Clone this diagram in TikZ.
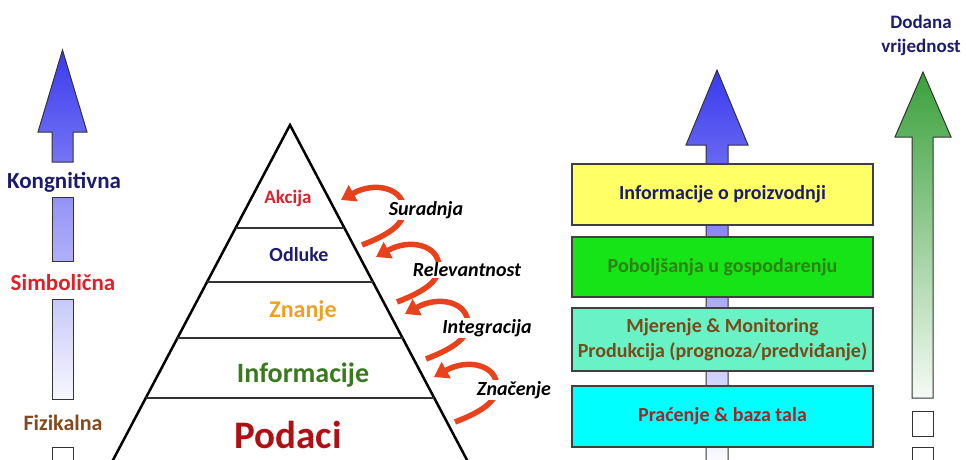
\documentclass[tikz,border=0pt]{standalone}
\usepackage{fontspec}
\setmainfont{Carlito}
\usetikzlibrary{arrows.meta,calc}
\definecolor{lblue}{RGB}{58,58,238}
\definecolor{ggreen}{RGB}{58,160,58}
\definecolor{rarr}{RGB}{232,66,28}
\definecolor{navy}{RGB}{28,28,110}
\definecolor{redlbl}{RGB}{226,30,40}
\definecolor{brownlbl}{RGB}{130,74,30}
\definecolor{orangelbl}{RGB}{240,160,32}
\definecolor{greenlbl}{RGB}{58,122,30}
\definecolor{darkred}{RGB}{176,16,20}
\definecolor{byellow}{RGB}{255,255,102}
\definecolor{bgreen}{RGB}{22,228,22}
\definecolor{bteal}{RGB}{104,242,198}
\definecolor{bcyan}{RGB}{0,255,255}
\definecolor{tgreen}{RGB}{46,130,20}
\definecolor{tbrown}{RGB}{122,74,24}
\definecolor{tred}{RGB}{160,40,40}
\begin{document}
\begin{tikzpicture}[x=1pt,y=-1pt,
  outl/.style={draw=black!80,line width=1pt},
  lbl/.style={font=\fontsize{#1}{#1}\selectfont\bfseries,inner sep=1pt},
  plbl/.style={font=\fontsize{#1}{#1}\selectfont\bfseries,inner sep=0pt},
  ilbl/.style={font=\fontsize{20}{20}\selectfont\bfseries\itshape,fill=white,inner sep=1pt},
  redarr/.style={draw=rarr,line width=5.5pt,-{Triangle[width=18pt,length=14pt]}},
  tier/.style={draw=black!75,line width=1.2pt,minimum width=301pt,inner sep=0pt,align=center,font=\fontsize{20}{25}\selectfont\bfseries},
  hline/.style={draw=black!80,line width=1.5pt}]
\useasboundingbox (0,0) rectangle (966,460);
\clip (0,0) rectangle (966,460);

% ---- left arrow ----
\path[outl,top color=lblue,bottom color=lblue!70!white]
  (62.5,50) -- (87,132) -- (73,132) -- (73,162) -- (52,162) -- (52,132) -- (38,132) -- cycle;
\path[outl,top color=lblue!55!white,bottom color=lblue!40!white] (52,197) rectangle (73,261);
\path[outl,top color=lblue!28!white,bottom color=lblue!4!white] (52,299) rectangle (73,399);
\path[outl,fill=white] (52,447) rectangle (73,470);
\node[lbl=23,text=navy] (kog) at (64,182) {Kongnitivna};
\node[lbl=23,text=redlbl] (sim) at (63,283) {Simbolična};
\node[lbl=22,text=brownlbl] (fiz) at (63,423) {Fizikalna};

% ---- pyramid ----
\coordinate (apex) at (290,125);
\coordinate (bl) at (113,460);
\coordinate (br) at (467,460);
\draw[line width=2.5pt,line join=miter] ($(apex)!1.1!(bl)$) -- (apex) -- ($(apex)!1.1!(br)$);
\foreach \t in {0.3075,0.4687,0.6358,0.8149}
  \draw[hline] ($(apex)!\t!(bl)$) -- ($(apex)!\t!(br)$);
\node[plbl=19,text=redlbl] (akc) at (288,198) {Akcija};
\node[plbl=20,text=navy] (odl) at (299,255) {Odluke};
\node[plbl=24,text=orangelbl] (zna) at (303,311) {Znanje};
\node[plbl=28,text=greenlbl] (inf) at (303,375) {Informacije};
\node[plbl=39,text=darkred] (pod) at (288,435) {Podaci};

% ---- red curved arrows ----
\foreach \i/\dx/\dy in {1/0/0,2/35/57,3/64/114,4/93/177}{
  \begin{scope}[shift={(\dx,\dy)}]
    \coordinate (tail\i) at (362,245);
    \coordinate (mid\i) at (404,210);
    \coordinate (tip\i) at (341,200);
    \draw[redarr] (tail\i) .. controls (385,236) and (404,226) .. (mid\i)
       .. controls (404,188) and (375,181) .. (tip\i);
  \end{scope}
}
\node[ilbl] (sur) at (426,210) {Suradnja};
\node[ilbl] (rel) at (467,270) {Relevantnost};
\node[ilbl] (int) at (487,328) {Integracija};
\node[ilbl] (znc) at (514,390) {Značenje};

% ---- right blue arrow with tiers ----
\path[outl,top color=lblue,bottom color=white]
  (717,70) -- (748,145) -- (728,145) -- (728,470) -- (706,470) -- (706,145) -- (686,145) -- cycle;
\node[tier,fill=byellow,minimum height=61pt,text=navy] (t1) at (722.5,194.5) {Informacije o proizvodnji};
\node[tier,fill=bgreen,minimum height=60pt,text=tgreen] (t2) at (722.5,267) {Poboljšanja u gospodarenju};
\node[tier,fill=bteal,minimum height=63pt,text=tbrown] (t3) at (722.5,339.5) {Mjerenje \& Monitoring\\Produkcija (prognoza/predviđanje)};
\node[tier,fill=bcyan,minimum height=61pt,text=tred] (t4) at (722.5,416.5) {Praćenje \& baza tala};

% ---- green arrow ----
\path[outl,top color=ggreen,bottom color=ggreen!5!white]
  (923,72) -- (951,137) -- (933,137) -- (933,398) -- (912,398) -- (912,137) -- (895,137) -- cycle;
\path[outl,fill=white] (912,411) rectangle (933,436);
\path[outl,fill=white] (912,447) rectangle (933,470);
\node[lbl=19,text=navy,align=center,font=\fontsize{19}{24}\selectfont\bfseries] (dod) at (921,35) {Dodana\\vrijednost};
\end{tikzpicture}
\end{document}
